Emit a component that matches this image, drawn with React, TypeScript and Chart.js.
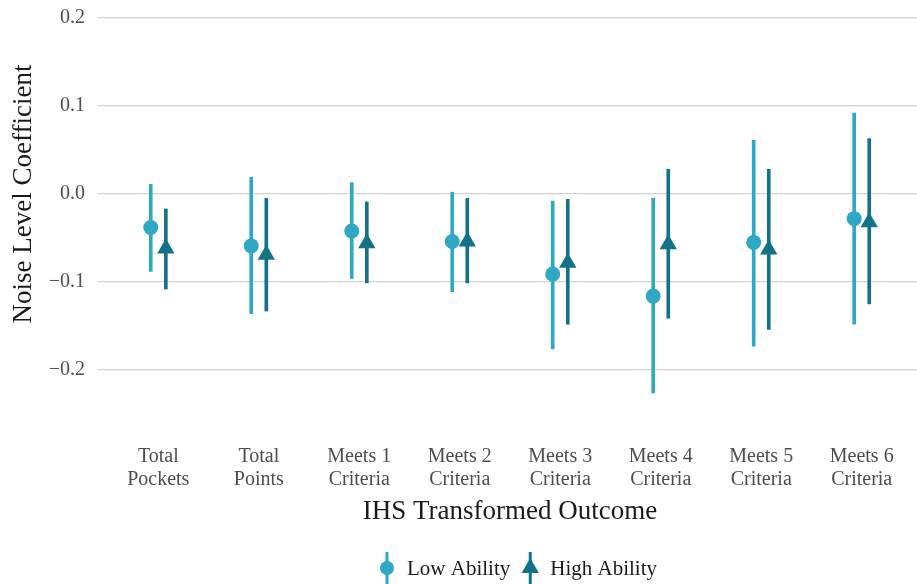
import React, { useEffect, useRef } from 'react';
import { Chart, registerables } from 'chart.js';

Chart.register(...registerables);

// ---- Data ----
const categories: string[][] = [
  ['Total', 'Pockets'],
  ['Total', 'Points'],
  ['Meets 1', 'Criteria'],
  ['Meets 2', 'Criteria'],
  ['Meets 3', 'Criteria'],
  ['Meets 4', 'Criteria'],
  ['Meets 5', 'Criteria'],
  ['Meets 6', 'Criteria'],
];
const seriesNames = ['Low Ability', 'High Ability'];

const lowEstimate = [-0.038, -0.059, -0.042, -0.054, -0.091, -0.116, -0.055, -0.028];
const lowLower = [-0.088, -0.136, -0.096, -0.111, -0.176, -0.226, -0.173, -0.148];
const lowUpper = [0.011, 0.019, 0.013, 0.002, -0.008, -0.005, 0.061, 0.092];

const highEstimate = [-0.062, -0.069, -0.056, -0.054, -0.078, -0.057, -0.063, -0.032];
const highLower = [-0.108, -0.133, -0.101, -0.101, -0.148, -0.141, -0.154, -0.125];
const highUpper = [-0.017, -0.005, -0.009, -0.005, -0.006, 0.028, 0.028, 0.063];

const yTicks = [-0.2, -0.1, 0.0, 0.1, 0.2];

// ---- Style ----
const LIGHT = '#2ea8c5';
const DARK = '#137189';
const FONT = '"Liberation Serif", "Times New Roman", serif';
const DODGE = 0.075;

function fmt(v: number): string {
  const s = Math.abs(v).toFixed(1);
  return v < -1e-9 ? '\u2212' + s : s;
}

function drawGlyph(ctx: CanvasRenderingContext2D, shape: string, color: string, cx: number, cy: number) {
  ctx.save();
  ctx.strokeStyle = color;
  ctx.fillStyle = color;
  ctx.lineWidth = 3;
  ctx.beginPath();
  ctx.moveTo(cx, cy - 16);
  ctx.lineTo(cx, cy + 16);
  ctx.stroke();
  ctx.beginPath();
  if (shape === 'circle') {
    ctx.arc(cx, cy, 7, 0, Math.PI * 2);
  } else {
    const r = 10;
    for (let k = 0; k < 3; k++) {
      const a = (k * 2 * Math.PI) / 3;
      const px = cx + Math.sin(a) * r;
      const py = cy - Math.cos(a) * r;
      if (k === 0) ctx.moveTo(px, py);
      else ctx.lineTo(px, py);
    }
    ctx.closePath();
  }
  ctx.fill();
  ctx.restore();
}

const legendPlugin = {
  id: 'pointrangeLegend',
  afterDraw(chart: any) {
    const ctx: CanvasRenderingContext2D = chart.ctx;
    const area = chart.chartArea;
    const items = [
      { label: seriesNames[0], color: LIGHT, shape: 'circle' },
      { label: seriesNames[1], color: DARK, shape: 'triangle' },
    ];
    ctx.save();
    ctx.font = `21px ${FONT}`;
    const widths = items.map((it) => ctx.measureText(it.label).width);
    const keyToText = 28;
    const itemGap = 12;
    let total = 0;
    widths.forEach((w, i) => {
      total += keyToText + w + (i > 0 ? itemGap : 0);
    });
    const center = (area.left + area.right) / 2 + 8;
    let x = center - total / 2;
    const cy = chart.height - 16;
    items.forEach((it, i) => {
      drawGlyph(ctx, it.shape, it.color, x + 8, cy);
      ctx.fillStyle = '#1a1a1a';
      ctx.textBaseline = 'middle';
      ctx.textAlign = 'left';
      ctx.fillText(it.label, x + keyToText, cy + 1);
      x += keyToText + widths[i] + itemGap;
    });
    ctx.restore();
  },
};

export default function App() {
  const canvasRef = useRef<HTMLCanvasElement | null>(null);

  useEffect(() => {
    document.body.style.margin = '0';
    const canvas = canvasRef.current;
    if (!canvas) return;

    const lowBars = categories.map((_, i) => ({ x: i + 1 - DODGE, y: [lowLower[i], lowUpper[i]] }));
    const highBars = categories.map((_, i) => ({ x: i + 1 + DODGE, y: [highLower[i], highUpper[i]] }));
    const lowPts = categories.map((_, i) => ({ x: i + 1 - DODGE, y: lowEstimate[i] }));
    const highPts = categories.map((_, i) => ({ x: i + 1 + DODGE, y: highEstimate[i] }));

    const chart = new Chart(canvas, {
      type: 'scatter',
      data: {
        datasets: [
          {
            type: 'bar',
            label: seriesNames[0] + ' CI',
            data: lowBars as any,
            backgroundColor: LIGHT,
            borderWidth: 0,
            barThickness: 3,
            grouped: false,
            order: 4,
          } as any,
          {
            type: 'scatter',
            label: seriesNames[0],
            data: lowPts,
            backgroundColor: LIGHT,
            borderWidth: 0,
            pointStyle: 'circle',
            pointRadius: 7.5,
            pointHoverRadius: 7.5,
            order: 3,
          } as any,
          {
            type: 'bar',
            label: seriesNames[1] + ' CI',
            data: highBars as any,
            backgroundColor: DARK,
            borderWidth: 0,
            barThickness: 3,
            grouped: false,
            order: 2,
          } as any,
          {
            type: 'scatter',
            label: seriesNames[1],
            data: highPts,
            backgroundColor: DARK,
            borderWidth: 0,
            pointStyle: 'triangle',
            pointRadius: 10,
            pointHoverRadius: 10,
            order: 1,
          } as any,
        ],
      },
      options: {
        animation: false,
        responsive: false,
        devicePixelRatio: 1,
        layout: { padding: 0, autoPadding: false },
        plugins: {
          legend: { display: false },
          tooltip: { enabled: false },
        },
        scales: {
          x: {
            type: 'linear',
            min: 0.4,
            max: 8.6,
            offset: false,
            grid: { display: false, drawTicks: false, offset: false },
            border: { display: false },
            afterBuildTicks: (scale: any) => {
              scale.ticks = categories.map((_, i) => ({ value: i + 1 }));
            },
            afterFit: (scale: any) => {
              scale.height = 148;
              scale.paddingLeft = 0;
              scale.paddingRight = 0;
            },
            ticks: {
              autoSkip: false,
              maxRotation: 0,
              minRotation: 0,
              padding: 9,
              color: '#4d4d4d',
              font: { family: FONT, size: 20, lineHeight: 1.15 },
              callback: (v: any) => {
                const idx = Math.round(Number(v)) - 1;
                return categories[idx] ?? '';
              },
            },
            title: {
              display: true,
              text: 'IHS Transformed Outcome',
              color: '#1a1a1a',
              font: { family: FONT, size: 27, lineHeight: 1.2 },
              padding: { top: 0, bottom: 56 },
            },
          },
          y: {
            type: 'linear',
            min: -0.275,
            max: 0.275,
            grid: { color: '#d4d4d4', lineWidth: 1.3, drawTicks: false },
            border: { display: false },
            afterBuildTicks: (scale: any) => {
              scale.ticks = yTicks.map((v) => ({ value: v }));
            },
            afterFit: (scale: any) => {
              scale.width = 98;
              scale.paddingTop = 0;
              scale.paddingBottom = 0;
            },
            ticks: {
              padding: 13,
              color: '#4d4d4d',
              font: { family: FONT, size: 20 },
              callback: (v: any) => fmt(Number(v)),
            },
            title: {
              display: true,
              text: 'Noise Level Coefficient',
              color: '#1a1a1a',
              font: { family: FONT, size: 27, lineHeight: 1.2 },
              padding: { top: 8, bottom: 0 },
            },
          },
        },
      },
      plugins: [legendPlugin],
    } as any);

    return () => {
      chart.destroy();
    };
  }, []);

  return (
    <div style={{ position: 'relative', width: 917, height: 584, overflow: 'hidden', background: '#ffffff' }}>
      <div style={{ position: 'absolute', left: 0, top: -48, width: 922, height: 632 }}>
        <canvas ref={canvasRef} width={922} height={632} style={{ width: 922, height: 632, display: 'block' }} />
      </div>
    </div>
  );
}
